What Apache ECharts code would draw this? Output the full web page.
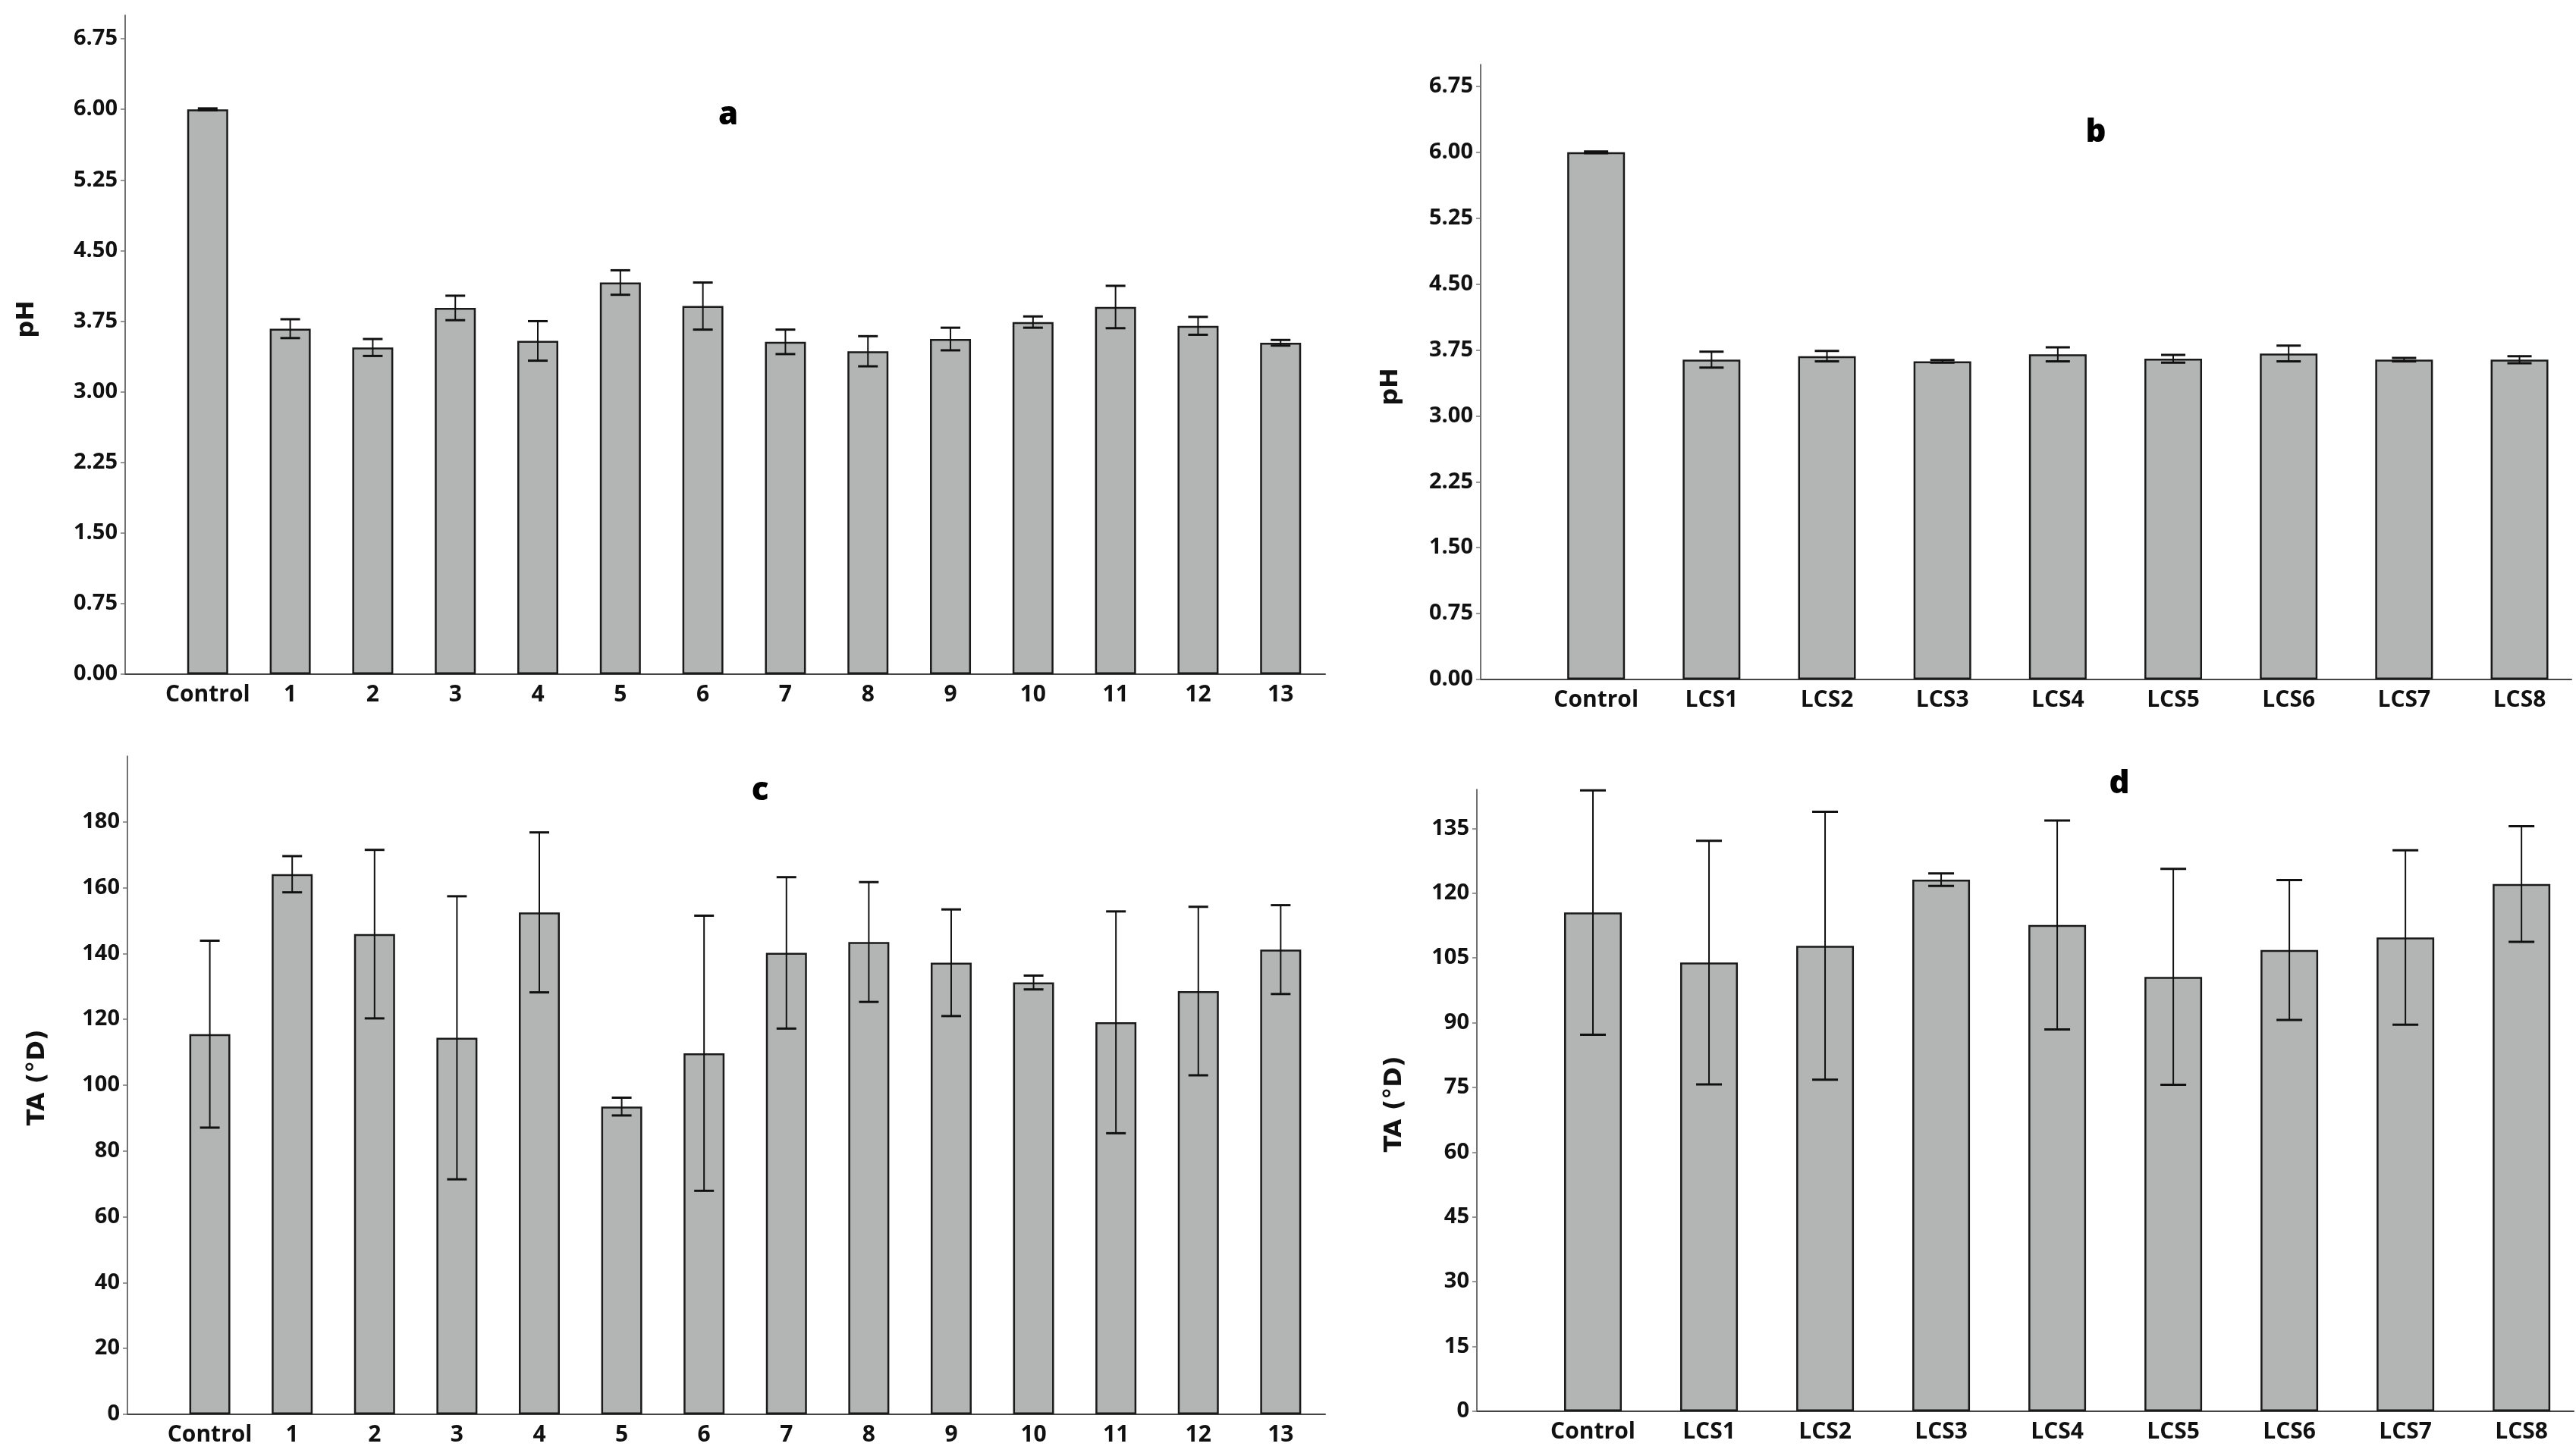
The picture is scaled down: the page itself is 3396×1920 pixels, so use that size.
<!DOCTYPE html>
<html>
<head>
<meta charset="utf-8">
<script src="https://cdn.jsdelivr.net/npm/echarts@6/dist/echarts.min.js"></script>
<style>
html,body{margin:0;padding:0;background:#fff;}
#chart{width:3396px;height:1920px;}
</style>
</head>
<body>
<div id="chart"></div>
<script>
// ---- data ----
const catsA = ['Control','1','2','3','4','5','6','7','8','9','10','11','12','13'];
const phA = [6.00, 3.67, 3.47, 3.89, 3.54, 4.16, 3.91, 3.53, 3.43, 3.56, 3.74, 3.90, 3.70, 3.52];
const phAErr = [0.01, 0.10, 0.09, 0.13, 0.21, 0.13, 0.25, 0.13, 0.16, 0.12, 0.06, 0.225, 0.095, 0.03];

const catsB = ['Control','LCS1','LCS2','LCS3','LCS4','LCS5','LCS6','LCS7','LCS8'];
const phB = [6.00, 3.64, 3.68, 3.62, 3.70, 3.65, 3.71, 3.64, 3.64];
const phBErr = [0.01, 0.09, 0.06, 0.015, 0.08, 0.045, 0.09, 0.02, 0.04];

const taC = [115.5, 164.1, 145.9, 114.4, 152.5, 93.5, 109.7, 140.2, 143.5, 137.2, 131.2, 119.1, 128.6, 141.2];
const taCErr = [28.4, 5.5, 25.6, 43.0, 24.3, 2.7, 41.8, 23.0, 18.2, 16.2, 2.1, 33.7, 25.6, 13.5];

const taD = [115.5, 103.9, 107.8, 123.1, 112.6, 100.6, 106.8, 109.7, 122.1];
const taDErr = [28.3, 28.2, 31.0, 1.45, 24.2, 25.0, 16.2, 20.2, 13.4];

const phTicks = [0, 0.75, 1.5, 2.25, 3, 3.75, 4.5, 5.25, 6, 6.75];
const taCTicks = [0, 20, 40, 60, 80, 100, 120, 140, 160, 180];
const taDTicks = [0, 15, 30, 45, 60, 75, 90, 105, 120, 135];

const panelLetters = ['a', 'b', 'c', 'd'];
const yNames = ['pH', 'pH', 'TA (°D)', 'TA (°D)'];

// ---- layout / style ----
const panels = [
  {cats: catsA, vals: phA, errs: phAErr, ticks: phTicks, yMax: 7, xMax: catsA.length - 0.46, fmt: v => v.toFixed(2),
   grid: {left: 165, top: 20, width: 1582, height: 869}, barW: 54, capW: 26, nameGap: 113, namePad: [0, 0, 0, 67],
   title: [960, 152]},
  {cats: catsB, vals: phB, errs: phBErr, ticks: phTicks, yMax: 7, xMax: catsB.length - 0.55, fmt: v => v.toFixed(2),
   grid: {left: 1952, top: 85, width: 1438, height: 811}, barW: 76, capW: 32, nameGap: 102, namePad: [0, 39, 0, 0],
   title: [2763, 175]},
  {cats: catsA, vals: taC, errs: taCErr, ticks: taCTicks, yMax: 200, xMax: catsA.length - 0.46, fmt: v => String(v),
   grid: {left: 168, top: 997, width: 1579, height: 868}, barW: 54, capW: 26, nameGap: 102, namePad: [0, 0, 0, 20],
   title: [1002, 1043]},
  {cats: catsB, vals: taD, errs: taDErr, ticks: taDTicks, yMax: 144, xMax: catsB.length - 0.55, fmt: v => String(v),
   grid: {left: 1947, top: 1041, width: 1446, height: 820}, barW: 76, capW: 34, nameGap: 92, namePad: [0, 10, 0, 0],
   title: [2794, 1034]}
];

const labelFont = {fontFamily: 'Open Sans', fontWeight: 'bold', color: '#111'};

const option = {
  animation: false,
  backgroundColor: '#ffffff',
  grid: [], xAxis: [], yAxis: [], series: [], graphic: []
};

panels.forEach((p, k) => {
  option.grid.push(Object.assign({containLabel: false}, p.grid));
  option.xAxis.push({
    type: 'value', gridIndex: k, min: -1, max: p.xMax,
    splitLine: {show: false},
    axisLine: {show: true, onZero: false, lineStyle: {color: '#444', width: 2}},
    axisTick: {show: false},
    axisLabel: Object.assign({
      customValues: p.cats.map((c, i) => i),
      formatter: v => p.cats[Math.round(v)] || '',
      fontSize: 30, margin: 12
    }, labelFont)
  });
  option.yAxis.push({
    type: 'value', gridIndex: k, min: 0, max: p.yMax,
    name: yNames[k], nameLocation: 'middle', nameGap: p.nameGap,
    nameTextStyle: {fontFamily: 'DejaVu Sans', fontWeight: 'bold', fontSize: 32, color: '#111', padding: p.namePad},
    splitLine: {show: false},
    axisLine: {show: true, onZero: false, lineStyle: {color: '#444', width: 1.5}},
    axisTick: {show: true, length: 6, customValues: p.ticks, lineStyle: {color: '#777', width: 1.5}},
    axisLabel: Object.assign({
      customValues: p.ticks, formatter: p.fmt, fontSize: 29, margin: 10
    }, labelFont)
  });
  option.series.push({
    type: 'bar', xAxisIndex: k, yAxisIndex: k,
    data: p.vals.map((v, i) => [i, v]),
    barWidth: p.barW,
    itemStyle: {color: '#b3b4b4', borderColor: '#1a1a1a', borderWidth: 2.5},
    z: 2
  });
  const capW = p.capW;
  option.series.push({
    type: 'custom', xAxisIndex: k, yAxisIndex: k, z: 5,
    data: p.vals.map((v, i) => [i, v - p.errs[i], v + p.errs[i]]),
    renderItem: (params, api) => {
      const x = api.value(0);
      const top = api.coord([x, api.value(2)]);
      const bot = api.coord([x, api.value(1)]);
      const hw = capW / 2;
      const st = {stroke: '#111', lineWidth: 2};
      const cs = {stroke: '#111', lineWidth: 3};
      return {type: 'group', children: [
        {type: 'line', shape: {x1: top[0], y1: top[1], x2: bot[0], y2: bot[1]}, style: st},
        {type: 'line', shape: {x1: top[0] - hw, y1: top[1], x2: top[0] + hw, y2: top[1]}, style: cs},
        {type: 'line', shape: {x1: bot[0] - hw, y1: bot[1], x2: bot[0] + hw, y2: bot[1]}, style: cs}
      ]};
    }
  });
  option.graphic.push({
    type: 'text', x: p.title[0], y: p.title[1], z: 10,
    style: {text: panelLetters[k], align: 'center', verticalAlign: 'middle',
            font: '800 42px "Open Sans"', fill: '#000'}
  });
});

const chart = echarts.init(document.getElementById('chart'), null, {renderer: 'canvas'});
chart.setOption(option);
</script>
</body>
</html>
